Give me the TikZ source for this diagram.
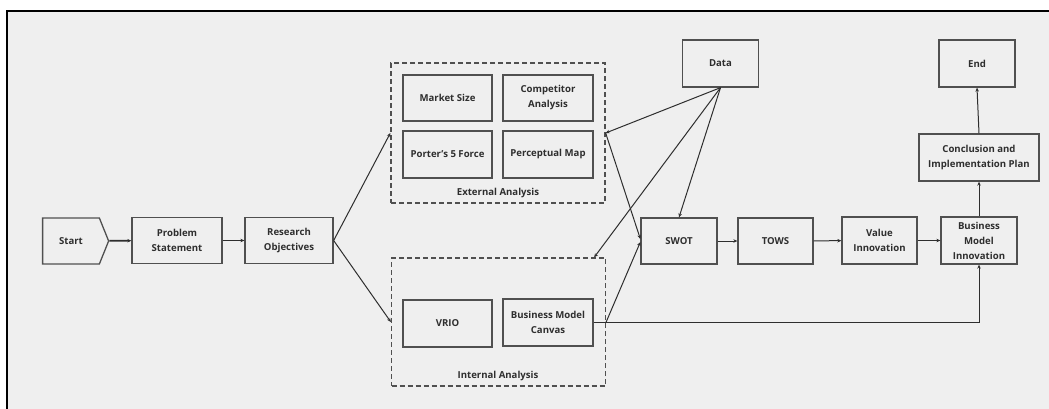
\documentclass[tikz,border=0pt]{standalone}
\usepackage{fontspec}
\setsansfont{Open Sans}
\usepackage{xcolor}
\usetikzlibrary{arrows.meta,positioning,shapes.symbols}
\definecolor{bgc}{HTML}{EFEFEF}
\definecolor{edge}{HTML}{505050}
\definecolor{ink}{HTML}{2E2E2E}

\begin{document}
\begin{tikzpicture}[
  x=1pt, y=-1pt,
  font=\sffamily\bfseries\fontsize{9.6}{15}\selectfont,
  >={Stealth[length=4pt,width=3.5pt]},
  box/.style={draw=edge, line width=1.3pt, fill=bgc, text=ink,
              align=center, inner sep=2pt, minimum width=76pt, minimum height=46pt},
  grp/.style={draw=edge, line width=1.3pt, dash pattern=on 5pt off 3pt,
              minimum width=214pt},
  lbl/.style={text=ink, inner sep=0pt},
  flow/.style={->, line width=1pt, draw=ink}
]
\useasboundingbox (0,0) rectangle (1049,408);
\clip (0,0) rectangle (1049,408);
\draw[black, line width=1.5pt, fill=bgc] (7,11) rectangle (1100,450);

% main line
\node[box, shape=signal, signal to=east, signal pointer angle=136,
      minimum width=66pt] (start) at (71,241) {Start};
\node[box, minimum width=90pt] (prob) at (177,240.5) {Problem\\Statement};
\node[box, minimum width=88pt] (res)  at (289,240.5) {Research\\Objectives};

% external analysis
\node[grp, minimum height=140pt] (ext) at (498,133) {};
\node[box, minimum width=89pt] (ms) at (447.5,98)    {Market Size};
\node[box, minimum width=90pt] (ca) at (548,98)      {Competitor\\Analysis};
\node[box, minimum width=89pt, minimum height=47pt] (pf) at (447.5,154.5) {Porter's 5 Force};
\node[box, minimum width=90pt, minimum height=47pt] (pm) at (548,154.5)   {Perceptual Map};
\node[lbl] (extlbl) at (498,193) {External Analysis};

% internal analysis
\node[grp, minimum height=128pt] (int) at (498.5,322) {};
\node[box, minimum width=89pt, minimum height=47pt] (vrio) at (447.5,323.5) {VRIO};
\node[box, minimum width=90pt, minimum height=47pt] (bmc)  at (548,322.5)   {Business Model\\Canvas};
\node[lbl] (intlbl) at (498,376) {Internal Analysis};

% right part
\node[box, minimum height=47pt] (data) at (720.5,63.5) {Data};
\node[box] (swot) at (679,241)   {SWOT};
\node[box, minimum width=75pt] (tows) at (775.5,241) {TOWS};
\node[box, minimum width=75pt, minimum height=47pt] (vi)  at (879.5,240.5) {Value\\Innovation};
\node[box, minimum height=47pt] (bmi) at (979,240.5) {Business\\Model\\Innovation};
\node[box, minimum width=120pt, minimum height=47pt] (cip) at (979,157.5) {Conclusion and\\Implementation Plan};
\node[box, minimum height=47pt] (end) at (977,63.5) {End};

\draw[flow, line width=1.8pt] (start) -- (prob);
\draw[flow] (prob) -- (res);
\draw[flow] (res.east) -- (ext.west);
\draw[flow] (res.east) -- (int.west);
\draw[flow] (data.south) -- (ext.east);
\draw[flow] (data.south) -- (swot.north);
\draw[flow] (data.south) -- ([xshift=-12pt]int.north east);
\draw[flow] (ext.east) -- ([yshift=2pt]swot.west);
\draw[flow] (int.east) -- ([yshift=-1pt]swot.west);
\draw[flow] (bmc.east) -| (bmi.south);
\draw[flow] (swot) -- (tows);
\draw[flow] (tows) -- (vi);
\draw[flow] (vi) -- (bmi);
\draw[flow] (bmi) -- (cip);
\draw[flow] (cip.north) -- (end.south);
\end{tikzpicture}
\end{document}
